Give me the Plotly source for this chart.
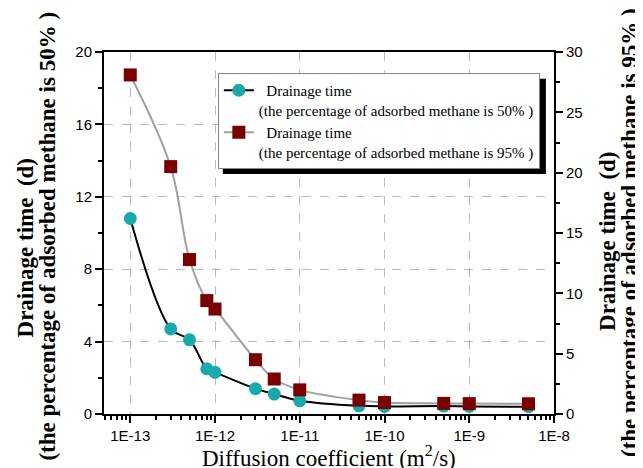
import plotly.graph_objects as go

diffusion = [1e-13, 3e-13, 5e-13, 8e-13, 1e-12, 3e-12, 5e-12, 1e-11, 5e-11, 1e-10, 5e-10, 1e-9, 5e-9]
time_50 = [10.8, 4.7, 4.1, 2.5, 2.3, 1.4, 1.1, 0.73, 0.45, 0.42, 0.44, 0.42, 0.4]
time_95 = [28.1, 20.5, 12.8, 9.4, 8.7, 4.5, 2.9, 2.0, 1.15, 0.95, 0.88, 0.86, 0.85]
x_tick_vals = [1e-13, 1e-12, 1e-11, 1e-10, 1e-9, 1e-8]
x_tick_text = ["1E-13", "1E-12", "1E-11", "1E-10", "1E-9", "1E-8"]

minor_x = [m * v for v in [1e-14] + x_tick_vals[:-1] for m in range(2, 10)]

serif = "Liberation Serif, Times New Roman, serif"
sans = "Liberation Sans, Arial, sans-serif"

fig = go.Figure()
fig.add_trace(go.Scatter(
    x=diffusion, y=time_50, mode="lines+markers", line_shape="spline",
    line=dict(color="black", width=2),
    marker=dict(symbol="circle", size=13, color="#1aa9ab"),
    name="&nbsp;&nbsp;Drainage time<br>(the percentage of adsorbed methane is 50% )",
))
fig.add_trace(go.Scatter(
    x=diffusion, y=time_95, mode="lines+markers", line_shape="spline",
    line=dict(color="#a0a0a0", width=2),
    marker=dict(symbol="square", size=13, color="#7a0000"),
    name="&nbsp;&nbsp;Drainage time<br>(the percentage of adsorbed methane is 95% )",
    yaxis="y2",
))

# legend drop shadow
fig.add_shape(type="rect", xref="paper", yref="paper",
              x0=0.264, x1=0.982, y0=0.663, y1=0.926,
              fillcolor="black", line=dict(width=0), layer="above")

title_font = dict(family=serif, size=23, color="black")
annots = [
    dict(text="<b>Drainage time&nbsp;&nbsp;(d)</b>", x=0, y=0.46, xshift=-79, textangle=-90),
    dict(text="<b>(the percentage of adsorbed methane is 50% )</b>", x=0, y=0.49, xshift=-56, textangle=-90),
    dict(text="<b>Drainage time&nbsp;&nbsp;(d)</b>", x=1, y=0.478, xshift=54, textangle=-90),
    dict(text="<b>(the percentage of adsorbed methane is 95% )</b>", x=1, y=0.5, xshift=75, textangle=-90),
    dict(text="Diffusion coefficient (m<sup>2</sup>/s)", x=0.5, y=0, yshift=-42, textangle=0),
]
for a in annots:
    fig.add_annotation(xref="paper", yref="paper", xanchor="center", yanchor="middle",
                       showarrow=False, font=title_font, **a)

fig.update_layout(
    width=643, height=468,
    margin=dict(l=96, r=97, t=44, b=62),
    plot_bgcolor="white", paper_bgcolor="white",
    showlegend=True,
    legend=dict(x=0.253, y=0.942, xanchor="left", yanchor="top",
                bgcolor="white", bordercolor="#888888", borderwidth=1,
                font=dict(family=serif, size=15, color="black"),
                valign="top", tracegroupgap=0),
    xaxis=dict(
        type="log", range=[-13.31, -8], automargin=False,
        tickvals=x_tick_vals, ticktext=x_tick_text,
        ticks="outside", ticklen=7, tickwidth=1.5, tickcolor="black",
        showline=True, linecolor="black", linewidth=2, mirror=True,
        showgrid=True, gridcolor="#bbbbbb", griddash="dash", gridwidth=1,
        zeroline=False,
        tickfont=dict(family=sans, size=15, color="black"),
        minor=dict(tickvals=minor_x, ticks="outside", ticklen=4, tickcolor="black", showgrid=False),
    ),
    yaxis=dict(
        range=[0, 20], dtick=4, automargin=False,
        ticks="outside", ticklen=7, tickwidth=1.5, tickcolor="black",
        showline=True, linecolor="black", linewidth=2,
        showgrid=True, gridcolor="#bbbbbb", griddash="dash", gridwidth=1,
        zeroline=False,
        tickfont=dict(family=sans, size=15, color="black"),
        minor=dict(dtick=2, ticks="outside", ticklen=4, tickcolor="black", showgrid=False),
    ),
    yaxis2=dict(
        overlaying="y", side="right", automargin=False,
        range=[0, 30], dtick=5,
        ticks="outside", ticklen=7, tickwidth=1.5, tickcolor="black",
        showline=True, linecolor="black", linewidth=2,
        showgrid=False, zeroline=False,
        tickfont=dict(family=sans, size=15, color="black"),
        minor=dict(dtick=2.5, ticks="outside", ticklen=4, tickcolor="black", showgrid=False),
    ),
)

fig.write_html("out.html")
